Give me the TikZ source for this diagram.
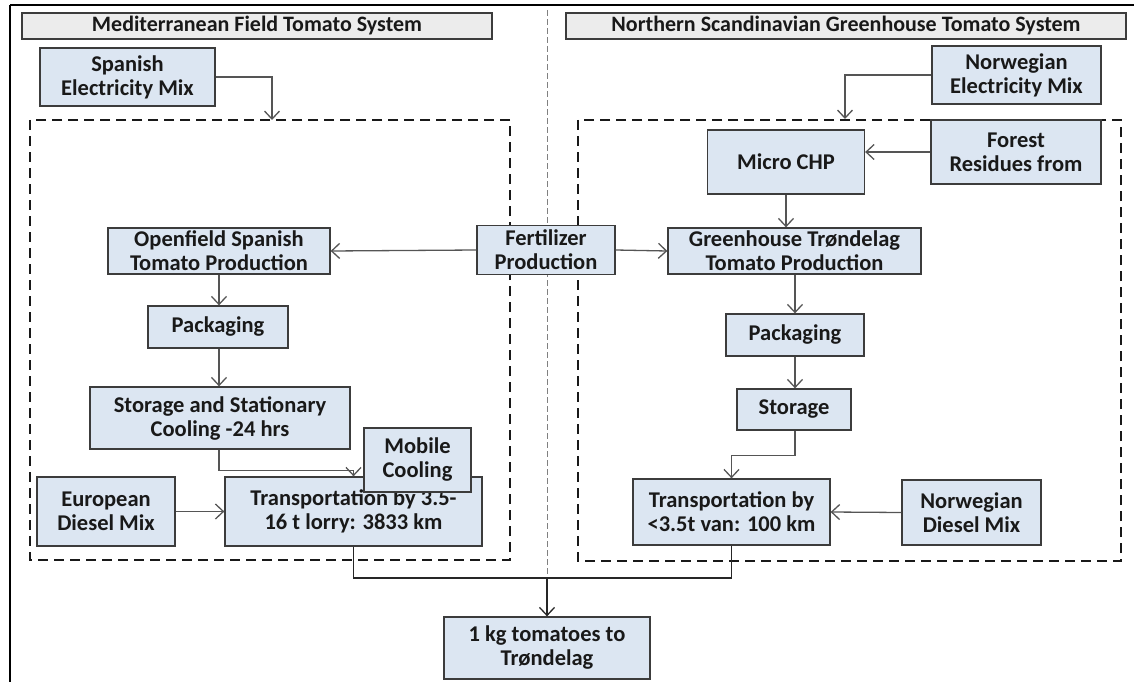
\documentclass[tikz,border=0pt]{standalone}
\usepackage{fontspec}
\setmainfont{Carlito}
\usetikzlibrary{arrows.meta}

\tikzset{
  box/.style={draw=boxline, line width=1.3pt, fill=boxfill, align=center, inner sep=0pt,
    text=black!90, font=\fontsize{22.5}{24}\selectfont\bfseries},
  titlebox/.style={box, fill=titlefill, font=\fontsize{22}{24}\selectfont\bfseries},
  flow/.style={draw=flowline, line width=1.3pt, -{Straight Barb[length=8pt,width=15pt]}},
  mergeline/.style={draw=black!85, line width=1.3pt},
  sysbox/.style={draw=black!90, line width=2pt, dash pattern=on 10pt off 6pt}
}

\begin{document}
\begin{tikzpicture}[x=1pt,y=-1pt]
\definecolor{boxfill}{RGB}{220,230,242}
\definecolor{titlefill}{RGB}{236,236,236}
\definecolor{boxline}{RGB}{60,60,60}
\definecolor{flowline}{RGB}{85,85,85}
\useasboundingbox (0,0) rectangle (1134,682);

\draw[line width=2pt] (10,5) -- (1134,5) ; % frame top
\draw[line width=2pt] (10,5) -- (10,682) ; % frame left
\draw[gray, line width=1pt, dash pattern=on 6pt off 3pt] (547,10) -- (547,578) ; % divider

\node[titlebox, minimum width=470pt, minimum height=26pt] (titleMed) at (257,26) {Mediterranean Field Tomato System};
\node[titlebox, minimum width=560pt, minimum height=26pt] (titleNor) at (846,26) {Northern Scandinavian Greenhouse Tomato System};

\draw[sysbox] (30,120) rectangle (510,560) ; % Spanish system
\draw[sysbox] (578,120) rectangle (1121,561) ; % Norwegian system

% Spanish chain
\node[box, minimum width=175pt, minimum height=58pt] (spanElec) at (127.5,77) {Spanish\\Electricity Mix};
\node[box, minimum width=222pt, minimum height=46pt] (openfield) at (219,251) {Openfield Spanish\\Tomato Production};
\node[box, minimum width=140pt, minimum height=42pt] (packSpan) at (218,327) {Packaging};
\node[box, minimum width=260pt, minimum height=62pt] (storSpan) at (220,418) {Storage and Stationary\\Cooling -24 hrs};
\node[box, minimum width=257pt, minimum height=69pt] (transSpan) at (353.5,511.5) {Transportation by 3.5-\\16 t lorry: 3833 km};
\node[box, minimum width=107pt, minimum height=64pt] (mobCool) at (417.5,460) {Mobile\\Cooling};
\node[box, minimum width=138pt, minimum height=69pt] (euroDiesel) at (106,511.5) {European\\Diesel Mix};

% shared
\node[box, minimum width=138pt, minimum height=49pt] (fert) at (546,250) {Fertilizer\\Production};

% Norwegian chain
\node[box, minimum width=169pt, minimum height=58pt] (norElec) at (1016.5,75) {Norwegian\\Electricity Mix};
\node[box, minimum width=157pt, minimum height=64pt] (chp) at (786,162) {Micro CHP};
\node[box, minimum width=170pt, minimum height=64pt] (forest) at (1016,152) {Forest\\Residues from};
\node[box, minimum width=253pt, minimum height=46pt] (greenhouse) at (794.5,251) {Greenhouse Trøndelag\\Tomato Production};
\node[box, minimum width=138pt, minimum height=42pt] (packNor) at (795,335) {Packaging};
\node[box, minimum width=114pt, minimum height=41pt] (storNor) at (794,409.5) {Storage};
\node[box, minimum width=197pt, minimum height=66pt] (transNor) at (731.5,512) {Transportation by\\<3.5t van: 100 km};
\node[box, minimum width=139pt, minimum height=65pt] (norDiesel) at (971.5,512.5) {Norwegian\\Diesel Mix};

\node[box, minimum width=206pt, minimum height=62pt] (final) at (547,648) {1 kg tomatoes to\\Trøndelag};

\coordinate (elecSpan) at (272,120);
\coordinate (elecNor) at (845,119);
\coordinate (merge) at (547,578);

\draw[flow] (spanElec.east) -| (elecSpan);
\draw[flow] (norElec.west) -| (elecNor);
\draw[flow] (fert.west) -- (openfield.east);
\draw[flow] (fert.east) -- (greenhouse.west);
\draw[flow] (openfield.south) -- (packSpan.north -| openfield.south);
\draw[flow] (packSpan.south -| openfield.south) -- (storSpan.north -| openfield.south);
\draw[flow] (storSpan.south -| openfield.south) -- ++(0,21) -| (transSpan.north);
\draw[flow] (euroDiesel.east) -- (transSpan.west);
\draw[flow] (forest.west) -- (forest.west -| chp.east);
\draw[flow] (chp.south) -- (chp.south |- greenhouse.north);
\draw[flow] (greenhouse.south -| packNor.north) -- (packNor.north);
\draw[flow] (packNor.south) -- (storNor.north -| packNor.south);
\draw[flow] (storNor.south -| packNor.south) -- ++(0,25) -| (transNor.north);
\draw[flow] (norDiesel.west) -- (transNor.east);
\draw[mergeline] (transSpan.south) |- (merge);
\draw[mergeline] (transNor.south) |- (merge);
\draw[flow, draw=black!85] (merge) -- (final.north);
\end{tikzpicture}
\end{document}
